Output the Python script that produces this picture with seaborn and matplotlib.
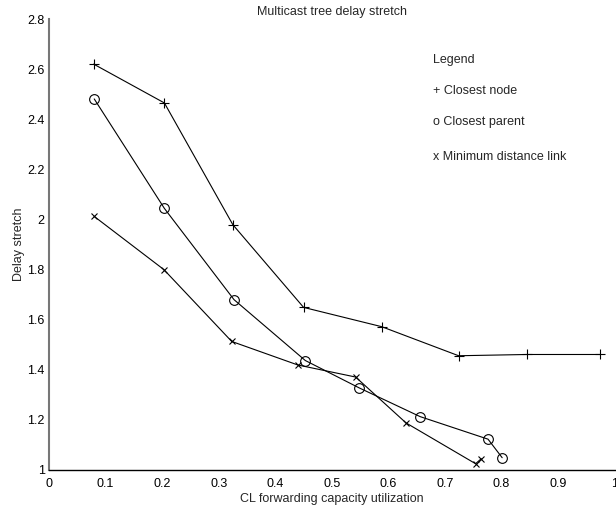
import matplotlib
matplotlib.use("Agg")
import matplotlib.pyplot as plt
import seaborn as sns
import pandas as pd

# data
node_x = [0.079, 0.204, 0.325, 0.450, 0.588, 0.724, 0.845, 0.974]
node_y = [2.620, 2.465, 1.979, 1.649, 1.572, 1.456, 1.461, 1.461]

parent_x = [0.080, 0.204, 0.327, 0.453, 0.548, 0.656, 0.776, 0.801]
parent_y = [2.481, 2.044, 1.680, 1.437, 1.328, 1.213, 1.123, 1.049]

link_x = [0.080, 0.203, 0.323, 0.440, 0.542, 0.631, 0.754, 0.764]
link_y = [2.012, 1.800, 1.513, 1.419, 1.371, 1.188, 1.025, 1.045]

legend_lines = ["Legend", "+ Closest node", "o Closest parent", "x Minimum distance link"]

sns.set_style("white")
plt.rcParams["font.family"] = ["Liberation Sans", "DejaVu Sans"]

fig = plt.figure(figsize=(6.16, 5.07), dpi=100)
ax = fig.add_axes([0.0795, 0.073, 0.9185, 0.8895])

series = [
    (node_x, node_y, "+", 7, "black"),
    (parent_x, parent_y, "o", 7, "none"),
    (link_x, link_y, "x", 5, "black"),
]
for xs, ys, mk, ms, fc in series:
    d = pd.DataFrame({"x": xs, "y": ys})
    sns.lineplot(data=d, x="x", y="y", sort=False, ax=ax, color="black",
                 linewidth=0.8, marker=mk, markersize=ms, markerfacecolor=fc,
                 markeredgecolor="black", markeredgewidth=0.8)

ax.set_xlim(0, 1)
ax.set_ylim(1, 2.8)
ax.set_xticks([0, 0.1, 0.2, 0.3, 0.4, 0.5, 0.6, 0.7, 0.8, 0.9, 1])
ax.set_xticklabels(["0", "0.1", "0.2", "0.3", "0.4", "0.5", "0.6", "0.7", "0.8", "0.9", "1"])
ax.set_yticks([1, 1.2, 1.4, 1.6, 1.8, 2, 2.2, 2.4, 2.6, 2.8])
ax.set_yticklabels(["1", "1.2", "1.4", "1.6", "1.8", "2", "2.2", "2.4", "2.6", "2.8"])
ax.tick_params(direction="in", length=4, width=0.8, labelsize=9, colors="black")
ax.tick_params(axis="y", color="#555555", pad=3)
ax.tick_params(axis="x", pad=6)

for s in ["top", "right"]:
    ax.spines[s].set_visible(False)
ax.spines["left"].set_color("#777777")
ax.spines["left"].set_linewidth(1.5)
ax.spines["bottom"].set_color("black")
ax.spines["bottom"].set_linewidth(1.0)

ax.set_title("Multicast tree delay stretch", fontsize=9, pad=3)
ax.set_xlabel("CL forwarding capacity utilization", fontsize=9, labelpad=2)
ax.set_ylabel("Delay stretch", fontsize=9, labelpad=2)

text_y = [0.909, 0.841, 0.772, 0.694]
for t, ty in zip(legend_lines, text_y):
    ax.text(0.678, ty, t, transform=ax.transAxes, fontsize=9, va="center", ha="left")

fig.savefig("out.png", dpi=100)
